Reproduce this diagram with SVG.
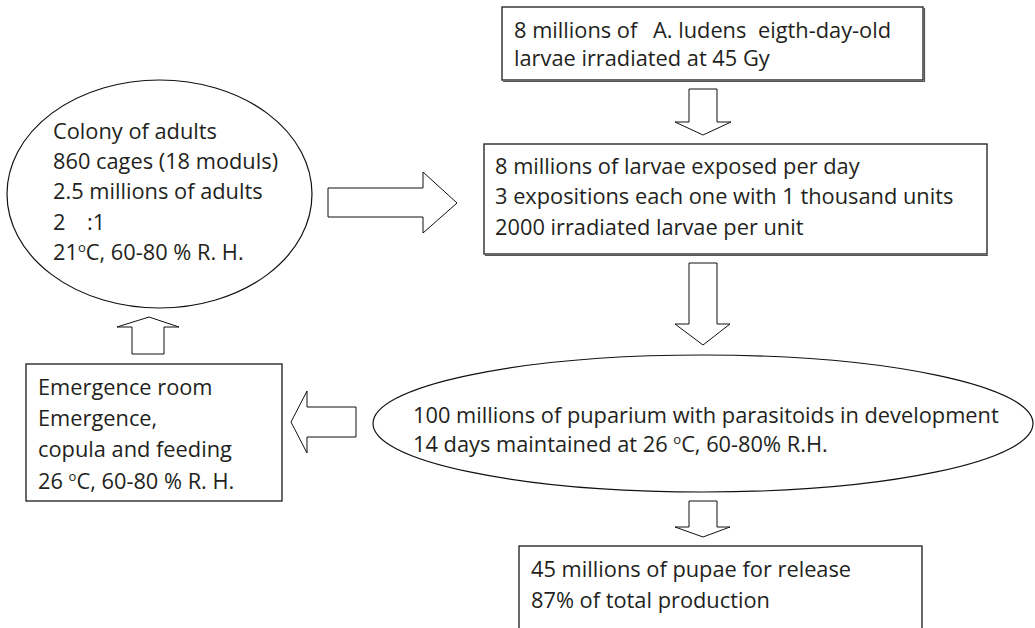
<svg xmlns="http://www.w3.org/2000/svg" width="1035" height="628" viewBox="0 0 1035 628">
<style>
  text { font-family: "Open Sans", "Liberation Sans", sans-serif; font-size: 21.8px; fill: #231f20; }
  .box { fill: #fff; stroke: #2a2a2a; stroke-width: 1.4; }
  .shadow { fill: none; stroke: #555; stroke-width: 1.2; }
  .ell { fill: #fff; stroke: #111; stroke-width: 1.2; }
  .arrow { fill: #fff; stroke: #111; stroke-width: 1; stroke-linejoin: miter; }
  .deg { font-size: 13px; }
</style>
<rect width="1035" height="628" fill="#fff"/>

<g id="connectors">
  <!-- top box -> box 2 -->
  <polygon class="arrow" points="689,89 717,89 717,122 731,122 703,135 675,122 689,122"/>
  <!-- colony -> box 2 -->
  <polygon class="arrow" points="328,188 423,188 423,172 457,203 423,233 423,217 328,217"/>
  <!-- box 2 -> puparium -->
  <polygon class="arrow" points="689,263 717,263 717,324 730,324 703,345 675,324 689,324"/>
  <!-- puparium -> emergence -->
  <polygon class="arrow" points="356,407 356,437 307,437 307,453 291,422 307,391 307,407"/>
  <!-- emergence -> colony -->
  <polygon class="arrow" points="132,354 164,354 164,327 179,327 149,317 117,327 132,327"/>
  <!-- puparium -> release -->
  <polygon class="arrow" points="689,501 717,501 717,527 730,527 703,537 675,527 689,527"/>
</g>

<g id="node-irradiated">
  <rect class="box" x="502" y="7" width="421" height="73"/>
  <path class="shadow" d="M503,81.5 H924.5 V8"/>
  <text y="38"><tspan x="514">8 millions of</tspan><tspan x="653">A. ludens</tspan><tspan x="758">eigth-day-old</tspan></text>
  <text x="514" y="66">larvae irradiated at 45 Gy</text>
</g>

<g id="node-exposed">
  <rect class="box" x="484" y="144" width="503" height="110"/>
  <path class="shadow" d="M485,255.5 H988"/>
  <text x="495" y="174">8 millions of larvae exposed per day</text>
  <text x="495" y="204">3 expositions each one with 1 thousand units</text>
  <text x="495" y="235">2000 irradiated larvae per unit</text>
</g>

<g id="node-colony">
  <ellipse class="ell" cx="159.5" cy="194" rx="152.5" ry="114"/>
  <text x="53" y="139">Colony of adults</text>
  <text x="53" y="169">860 cages (18 moduls)</text>
  <text x="53" y="199">2.5 millions of adults</text>
  <text y="230"><tspan x="53">2</tspan><tspan x="87">:1</tspan></text>
  <text x="53" y="260">21<tspan class="deg" dy="-8">o</tspan><tspan dy="8">C, 60-80 % R. H.</tspan></text>
</g>

<g id="node-puparium">
  <ellipse class="ell" cx="703" cy="423.5" rx="330" ry="68.5"/>
  <text x="413" y="423">100 millions of puparium with parasitoids in development</text>
  <text x="413" y="452">14 days maintained at 26 <tspan class="deg" dy="-8">o</tspan><tspan dy="8">C, 60-80% R.H.</tspan></text>
</g>

<g id="node-emergence">
  <rect class="box" x="26" y="364" width="256" height="137"/>
  <text x="38" y="395">Emergence room</text>
  <text x="38" y="426">Emergence,</text>
  <text x="38" y="457">copula and feeding</text>
  <text x="38" y="489">26 <tspan class="deg" dy="-8">o</tspan><tspan dy="8">C, 60-80 % R. H.</tspan></text>
</g>

<g id="node-release">
  <rect class="box" x="519" y="546" width="403" height="100"/>
  <text x="531" y="577">45 millions of pupae for release</text>
  <text x="531" y="608">87% of total production</text>
</g>
</svg>
